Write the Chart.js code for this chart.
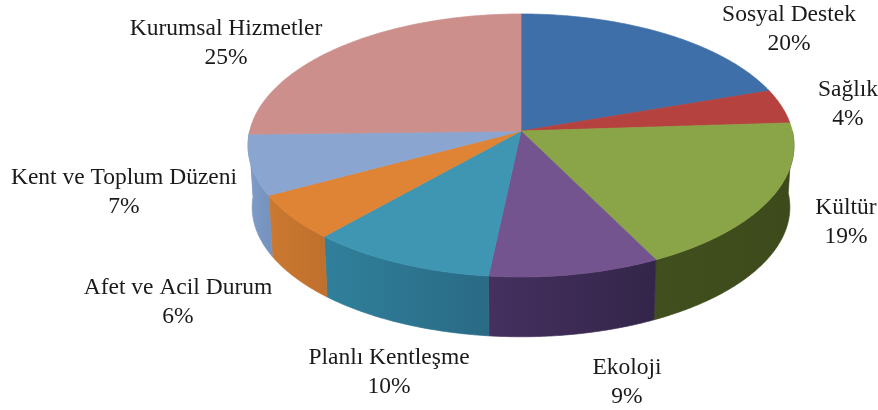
<!DOCTYPE html>
<html lang="tr">
<head>
<meta charset="utf-8">
<title>Pie</title>
<script src="https://cdn.jsdelivr.net/npm/chart.js@4"></script>
<style>
  html, body { margin: 0; padding: 0; background: #fff; }
  canvas { display: block; }
</style>
</head>
<body>
<canvas id="myChart" width="878" height="410"></canvas>
<script>
const categories = ['Sosyal Destek', 'Sağlık', 'Kültür', 'Ekoloji', 'Planlı Kentleşme', 'Afet ve Acil Durum', 'Kent ve Toplum Düzeni', 'Kurumsal Hizmetler'];
const shares = [19.8, 4.2, 18.6, 9.1, 9.9, 5.6, 7.4, 25.4];
const topColors = ['#3f6fa8', '#b5423f', '#8aa548', '#74548f', '#3f96b3', '#df8335', '#8aa5d0', '#cc8f8c'];
const sideColorsFrom = ['#2c4f78', '#7e2e2c', '#3d4a1b', '#33254a', '#2a6a85', '#c0702d', '#7693c0', '#7f9bc8'];
const sideColorsTo = ['#2c4f78', '#7e2e2c', '#414e1d', '#45305f', '#30809b', '#cb7931', '#7f9bc8', '#7f9bc8'];

// label centres, first line / second line
const labelX = [789, 848, 846, 627, 389, 178, 124, 226];
const labelY = [15, 90, 208, 368, 358, 288, 178, 29];
const lineGap = 29;

// perspective of the tilted disc
const view = { cx: 521, cy: 131, a: 271.3, b: 129.9, p: 0.11, depth: 62, shrink: 0.985 };

function rimPoint(angle, lower) {
    const u = Math.cos(angle), v = Math.sin(angle);
    const w = 1 - view.p * v;
    let x = view.a * u / w, y = view.b * v / w;
    if (lower) {
        x *= view.shrink;
        y = y * view.shrink + view.depth;
    }
    return [view.cx + x, view.cy + y];
}

function traceRim(ctx, from, to, lower) {
    const steps = Math.max(2, Math.ceil(Math.abs(to - from) / 0.01));
    for (let i = 0; i <= steps; i++) {
        const p = rimPoint(from + (to - from) * i / steps, lower);
        ctx.lineTo(p[0], p[1]);
    }
}

const disc3d = {
    id: 'disc3d',
    // the library works out the slice angles, this only projects them
    beforeDatasetsDraw(chart) {
        const ctx = chart.ctx;
        const arcs = chart.getDatasetMeta(0).data;
        ctx.save();
        ctx.lineWidth = 0.7;
        ctx.lineJoin = 'round';

        // front wall
        arcs.forEach((arc, i) => {
            const from = Math.max(arc.startAngle, 0);
            const to = Math.min(arc.endAngle, Math.PI);
            if (to <= from) return;
            const a = rimPoint(from, false), b = rimPoint(to, false);
            const grad = ctx.createLinearGradient(a[0], 0, b[0], 0);
            grad.addColorStop(0, sideColorsFrom[i]);
            grad.addColorStop(1, sideColorsTo[i]);
            ctx.fillStyle = grad;
            ctx.strokeStyle = grad;
            ctx.beginPath();
            traceRim(ctx, from, to, false);
            traceRim(ctx, to, from, true);
            ctx.closePath();
            ctx.fill();
            ctx.stroke();
        });

        // top face
        arcs.forEach((arc, i) => {
            ctx.fillStyle = topColors[i];
            ctx.strokeStyle = topColors[i];
            ctx.beginPath();
            ctx.moveTo(view.cx, view.cy);
            traceRim(ctx, arc.startAngle, arc.endAngle, false);
            ctx.closePath();
            ctx.fill();
            ctx.stroke();
        });
        ctx.restore();
        return false;
    },
    afterDraw(chart) {
        const ctx = chart.ctx;
        ctx.save();
        ctx.fillStyle = '#1a1a1a';
        ctx.font = '23.5px "Liberation Serif"';
        ctx.textAlign = 'center';
        ctx.textBaseline = 'middle';
        categories.forEach((name, i) => {
            ctx.fillText(name, labelX[i], labelY[i]);
            ctx.fillText(Math.round(shares[i]) + '%', labelX[i], labelY[i] + lineGap);
        });
        ctx.restore();
    }
};

new Chart(document.getElementById('myChart').getContext('2d'), {
    type: 'pie',
    data: {
        labels: categories,
        datasets: [{ data: shares, backgroundColor: topColors, borderWidth: 0 }],
    },
    options: {
        responsive: false,
        animation: false,
        plugins: { legend: { display: false }, tooltip: { enabled: false } },
    },
    plugins: [disc3d],
});
</script>
</body>
</html>
